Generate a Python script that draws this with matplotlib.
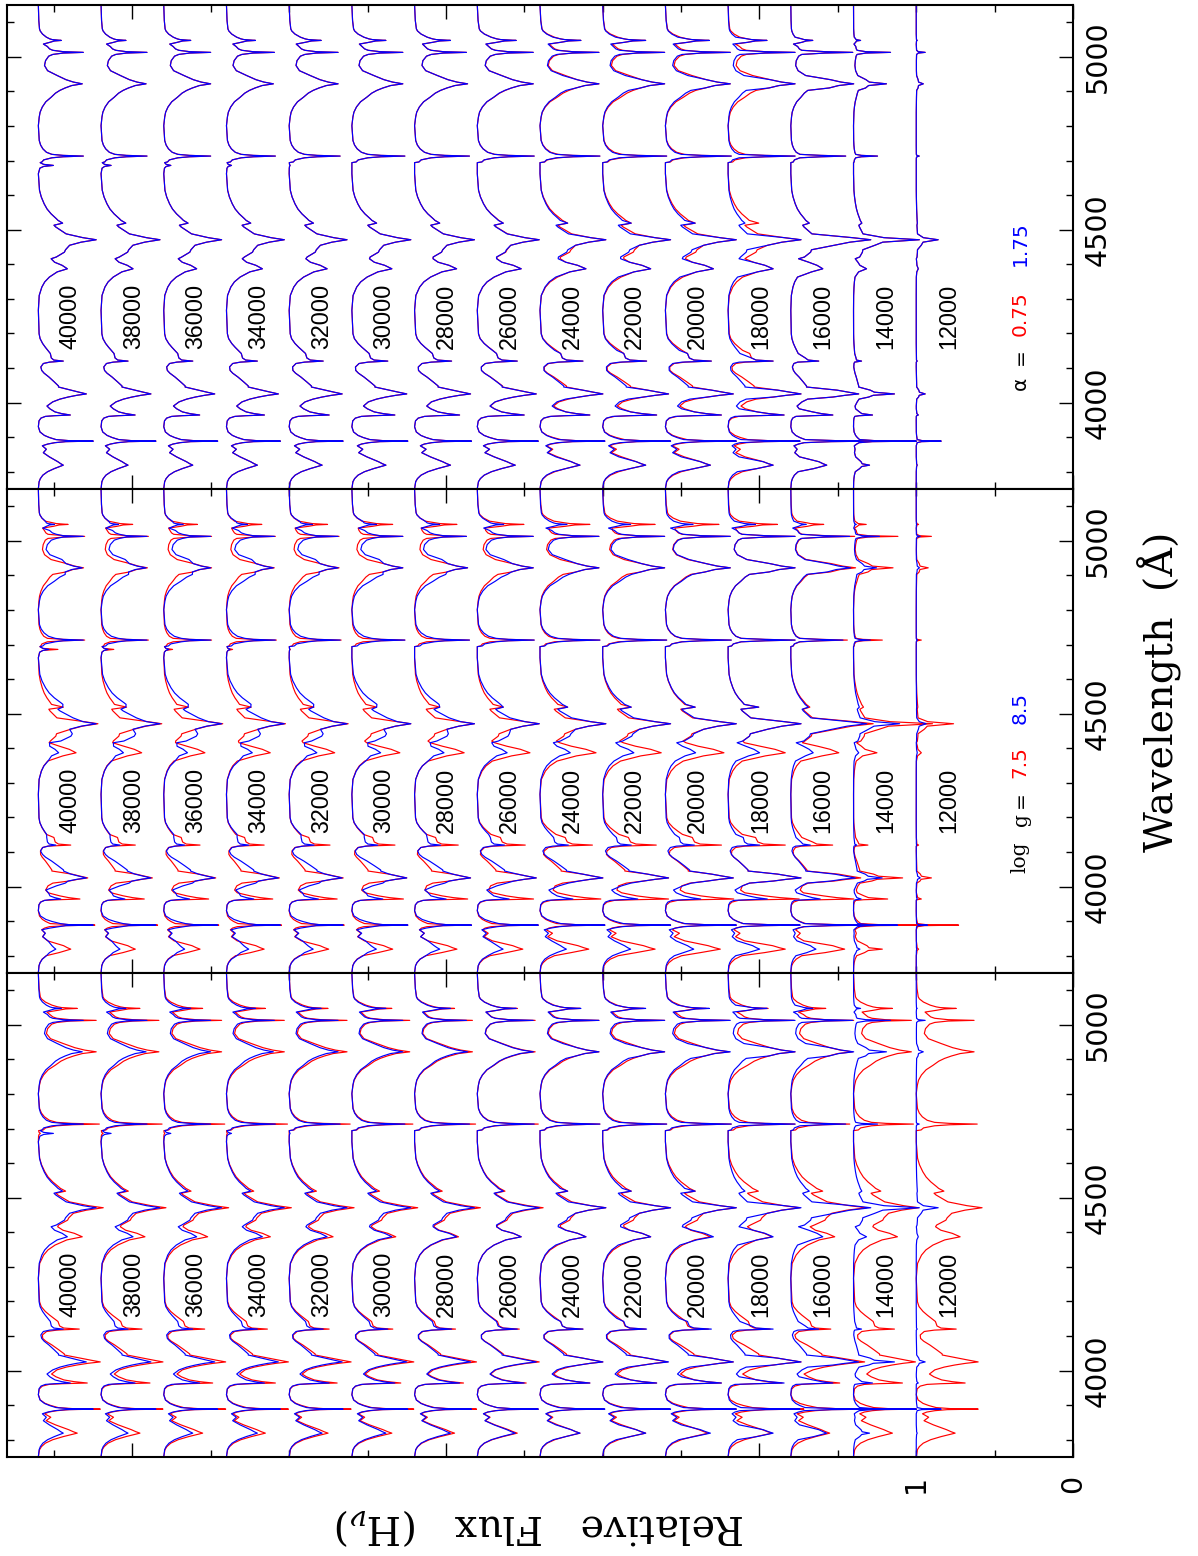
import numpy as np
import matplotlib
matplotlib.use("Agg")
import matplotlib.pyplot as plt
from matplotlib.ticker import MultipleLocator

temperatures = [40000, 38000, 36000, 34000, 32000, 30000, 28000, 26000,
                24000, 22000, 20000, 18000, 16000, 14000, 12000]
continuum = [6.6, 6.2, 5.8, 5.4, 5.0, 4.6, 4.2, 3.8, 3.4, 3.0, 2.6, 2.2, 1.8, 1.4, 1.0]

# line shapes, wavelength and fraction of the line depth
# lines: 3820 3889 3965 4026 4121 4387 4471 4686 4713 4922 5013 5048
line_wave = [
    [3751, 3771, 3780, 3790, 3800, 3809, 3815, 3819, 3823, 3829, 3843, 3855, 3865, 3875],
    [3880, 3884, 3887, 3888.5, 3890, 3893, 3899, 3905, 3915, 3930],
    [3947, 3955, 3960, 3962, 3964, 3968, 3973, 3982, 3990],
    [4002, 4010, 4016, 4021, 4025, 4030, 4036, 4045, 4048, 4060, 4074, 4085, 4093],
    [4103, 4113, 4117, 4120, 4123, 4129, 4142, 4151, 4160, 4171, 4185, 4199, 4267],
    [4310, 4334, 4349, 4363, 4378, 4387, 4397, 4406, 4416],
    [4421, 4435, 4442, 4455, 4464, 4471, 4477, 4488, 4508, 4513, 4519, 4527, 4532, 4546, 4560, 4575, 4595, 4614, 4662],
    [4678, 4683, 4686, 4689, 4694],
    [4696, 4702, 4708, 4711, 4713, 4715, 4718, 4724, 4734, 4745, 4758, 4801],
    [4826, 4840, 4855, 4870, 4883, 4895, 4903, 4910, 4917, 4922, 4927, 4934, 4946, 4960, 4975],
    [4989, 5002, 5007, 5011, 5013, 5015, 5019, 5023, 5030],
    [5037, 5042, 5046, 5047.5, 5050, 5052, 5057, 5066, 5075, 5081, 5105, 5149],
]
line_frac = [
    [0.0, .03, .08, .18, .37, .64, .85, 1.0, .90, .78, .44, .20, .32, .16],
    [.17, .30, .50, 1.0, .55, .32, .20, .11, .03, 0.0],
    [.02, .08, .22, .50, 1.0, .73, .52, .36, .27],
    [.30, .45, .62, .80, 1.0, .85, .68, .42, .42, .33, .22, .12, .07],
    [.10, .20, .45, 1.0, .62, .52, .48, .38, .28, .17, .07, .03, 0.0],
    [.03, .12, .22, .38, .65, 1.0, .82, .56, .44],
    [.31, .45, .47, .54, .74, 1.0, .77, .48, .30, .27, .42, .34, .31, .22, .15, .10, .05, .02, 0.0],
    [.10, .35, 1.0, .35, .12],
    [.08, .12, .30, .55, 1.0, .55, .30, .18, .10, .05, .02, 0.0],
    [.02, .04, .09, .17, .29, .39, .49, .61, .76, 1.0, .80, .63, .43, .21, .14],
    [.16, .23, .32, .55, 1.0, .55, .32, .25, .20],
    [.22, .50, .70, 1.0, .60, .50, .35, .18, .08, .05, .02, 0.0],
]
strong_lines = [1, 3, 6, 8, 9, 10]
bump_waves = [4142, 4519, 4910]

# line depths, flux units, one row per temperature
depth_base = [
    [.159, .350, .204, .306, .159, .185, .369, .096, .287, .280, .287, .146],
    [.172, .350, .217, .318, .172, .204, .376, .064, .293, .287, .293, .159],
    [.185, .344, .229, .325, .185, .210, .369, .045, .299, .299, .299, .172],
    [.197, .344, .242, .331, .197, .229, .369, .032, .312, .299, .306, .185],
    [.210, .344, .255, .338, .217, .242, .369, .006, .325, .312, .312, .204],
    [.217, .357, .274, .350, .229, .255, .376, .000, .338, .325, .325, .217],
    [.229, .363, .287, .357, .236, .268, .382, .000, .350, .338, .331, .229],
    [.242, .389, .299, .376, .255, .280, .395, .000, .363, .357, .357, .248],
    [.255, .414, .318, .401, .274, .293, .420, .000, .382, .376, .376, .261],
    [.274, .433, .344, .420, .280, .306, .433, .000, .408, .395, .395, .274],
    [.287, .452, .357, .433, .293, .306, .452, .000, .420, .414, .414, .280],
    [.287, .459, .357, .465, .287, .287, .465, .000, .427, .427, .427, .248],
    [.229, .516, .268, .433, .178, .204, .510, .000, .350, .401, .395, .140],
    [.102, .401, .121, .261, .051, .083, .420, .000, .153, .210, .236, .045],
    [.006, .159, .013, .057, .006, .013, .140, .000, .019, .045, .057, .006],
]
depth_bottom_red = [
    [.248, .395, .312, .395, .261, .280, .414, .013, .389, .369, .369, .248],
    [.248, .395, .312, .395, .261, .280, .414, .013, .389, .369, .369, .248],
    [.248, .395, .312, .395, .261, .280, .414, .006, .389, .369, .369, .248],
    [.248, .395, .312, .395, .261, .280, .414, .006, .389, .369, .369, .248],
    [.248, .395, .306, .395, .255, .280, .414, .000, .389, .369, .369, .248],
    [.255, .395, .312, .395, .261, .280, .420, .000, .389, .369, .369, .255],
    [.255, .395, .312, .395, .261, .280, .420, .000, .389, .369, .369, .255],
    [.255, .389, .312, .395, .268, .280, .420, .000, .389, .369, .369, .255],
    [.255, .408, .318, .401, .274, .293, .420, .000, .382, .376, .376, .255],
    [.274, .427, .344, .414, .274, .306, .433, .000, .408, .395, .395, .261],
    [.274, .452, .357, .433, .274, .287, .452, .000, .420, .408, .408, .261],
    [.280, .484, .344, .465, .268, .280, .459, .000, .427, .427, .420, .255],
    [.248, .522, .312, .471, .255, .280, .484, .000, .376, .395, .401, .223],
    [.248, .401, .312, .395, .261, .280, .414, .000, .382, .369, .369, .248],
    [.248, .395, .312, .395, .255, .280, .420, .000, .389, .369, .369, .255],
]

# scale of the strong lines, the weak lines and the wings for each drawn series
ones = [1.0] * 15
wing_base = [1, 1, 1, 1, 1, 1, 1, 1, .9, .85, .8, .55, .55, .3, .12]
wing_top_red = [1, 1, 1, 1, 1, 1, 1, 1.02, 1, 1, .95, .85, .55, .3, .12]
strong_mid_red = [1.03, 1.03, 1.02, 1.02, 1.02, 1, 1, 1, 1, 1, 1, 1, 1.03, 1.2, 1.7]
weak_mid_red = [1.3, 1.27, 1.25, 1.22, 1.2, 1.2, 1.18, 1.2, 1.22, 1.22, 1.22, 1.27, 1.5, 1.8, 2.5]
wing_mid_red = [.65, .65, .65, .65, .7, .7, .72, .75, .8, .8, .8, .65, .55, .3, .1]
strong_mid_blue = [1, 1, 1, 1, 1, 1, 1, 1, 1, 1, 1, 1, .95, .7, .45]
weak_mid_blue = [.7, .7, .72, .72, .73, .72, .7, .68, .66, .65, .63, .7, .7, .4, .5]
wing_mid_blue = [1.25, 1.25, 1.25, 1.25, 1.25, 1.25, 1.2, 1.1, 1, .95, .85, .65, .55, .3, .1]

wave_ticks = [4000, 4500, 5000]
tick_labels = ["4000", "4500", "5000"]

shape_wave = np.concatenate(line_wave)
shape_frac = np.concatenate(line_frac)
shape_line = np.concatenate([[n] * len(w) for n, w in enumerate(line_wave)])
is_bump = np.isin(shape_wave, bump_waves)


def spectrum(i, depths, strong, weak, wing):
    w = wing[i]
    # cool spectra have narrow lines, so the inner part of the line shrinks too
    core = shape_frac * (w + 0.3) if w < 0.4 else shape_frac
    frac = np.where(shape_frac < 0.5, shape_frac * w, core)
    frac = np.where(shape_frac == 1, 1.0, frac)
    if w >= 0.6:
        frac = np.where(is_bump, shape_frac, frac)
    frac = np.clip(frac, 0, 1)
    depth = np.array(depths[i])[shape_line]
    scale = np.where(np.isin(shape_line, strong_lines), strong[i], weak[i])
    return continuum[i] - frac * depth * scale


def draw_panel(ax, red, blue):
    for i in range(len(temperatures)):
        ax.plot(spectrum(i, *red), shape_wave, color="#ff0000", lw=0.85)
        ax.plot(spectrum(i, *blue), shape_wave, color="#0000ff", lw=0.85)
        ax.text(continuum[i] - 0.205, 4250, str(temperatures[i]), rotation=90,
                ha="center", va="center", fontsize=16.8, family="Liberation Sans")
    ax.set_xlim(6.8, 0)
    ax.set_ylim(3750, 5150)
    ax.xaxis.set_major_locator(MultipleLocator(2))
    ax.xaxis.set_minor_locator(MultipleLocator(0.5))
    ax.yaxis.set_major_locator(MultipleLocator(500))
    ax.yaxis.set_minor_locator(MultipleLocator(100))
    ax.set_yticks(wave_ticks, tick_labels, rotation=90, va="center", fontsize=20.5)
    ax.set_xticklabels([])
    ax.tick_params(which="both", direction="in", top=True, right=True, left=True, bottom=True,
                   labelleft=False, labelright=True, labelbottom=False, width=1.0)
    ax.tick_params(which="major", length=10, pad=8)
    ax.tick_params(which="minor", length=5)
    for s in ax.spines.values():
        s.set_linewidth(1.5)


plt.rcParams["mathtext.fontset"] = "dejavuserif"
W, H = 1198.0, 1556.0
fig = plt.figure(figsize=(W / 100, H / 100), dpi=100)
left, right = 7 / W, 1073 / W
tops = [5, 489, 973]
ax_top, ax_mid, ax_bot = [fig.add_axes([left, 1 - (t + 484) / H, right - left, 484 / H]) for t in tops]

draw_panel(ax_top, (depth_base, ones, ones, wing_top_red), (depth_base, ones, ones, wing_base))
draw_panel(ax_mid, (depth_base, strong_mid_red, weak_mid_red, wing_mid_red),
           (depth_base, strong_mid_blue, weak_mid_blue, wing_mid_blue))
draw_panel(ax_bot, (depth_bottom_red, ones, ones, ones), (depth_base, ones, ones, wing_base))

# flux labels under the bottom frame
for val in (0, 1):
    ax_bot.annotate(str(val), (val, 0), xycoords=ax_bot.get_xaxis_transform(), xytext=(0, -27),
                    textcoords="offset pixels", rotation=90, ha="center", va="center", fontsize=20.5)


def fig_text(x, y, s, **kw):
    fig.text(x / W, 1 - y / H, s, ha="center", va="center", **kw)


fig_text(1160, 692, "Wavelength  (Å)", rotation=90, fontsize=28.5, family="DejaVu Serif")
fig_text(540, 1527, r"Relative   Flux   (H$_{\nu}$)", rotation=180, fontsize=28.5, family="DejaVu Serif")

# legends in the two upper panels
fig_text(1020, 857, "log", rotation=90, fontsize=14.5, family="DejaVu Serif")
fig_text(1021, 820, "g", rotation=90, fontsize=14.5, family="DejaVu Serif")
fig_text(1020, 800, "=", rotation=90, fontsize=14.5)
fig_text(1020, 762, "7.5", rotation=90, fontsize=14.5, color="#ff0000")
fig_text(1020, 708, "8.5", rotation=90, fontsize=14.5, color="#0000ff")
fig_text(1020, 383, "α", rotation=90, fontsize=14.5)
fig_text(1020, 357, "=", rotation=90, fontsize=14.5)
fig_text(1020, 314, "0.75", rotation=90, fontsize=14.5, color="#ff0000")
fig_text(1020, 244, "1.75", rotation=90, fontsize=14.5, color="#0000ff")

plt.savefig("out.png", dpi=100)
plt.close()
